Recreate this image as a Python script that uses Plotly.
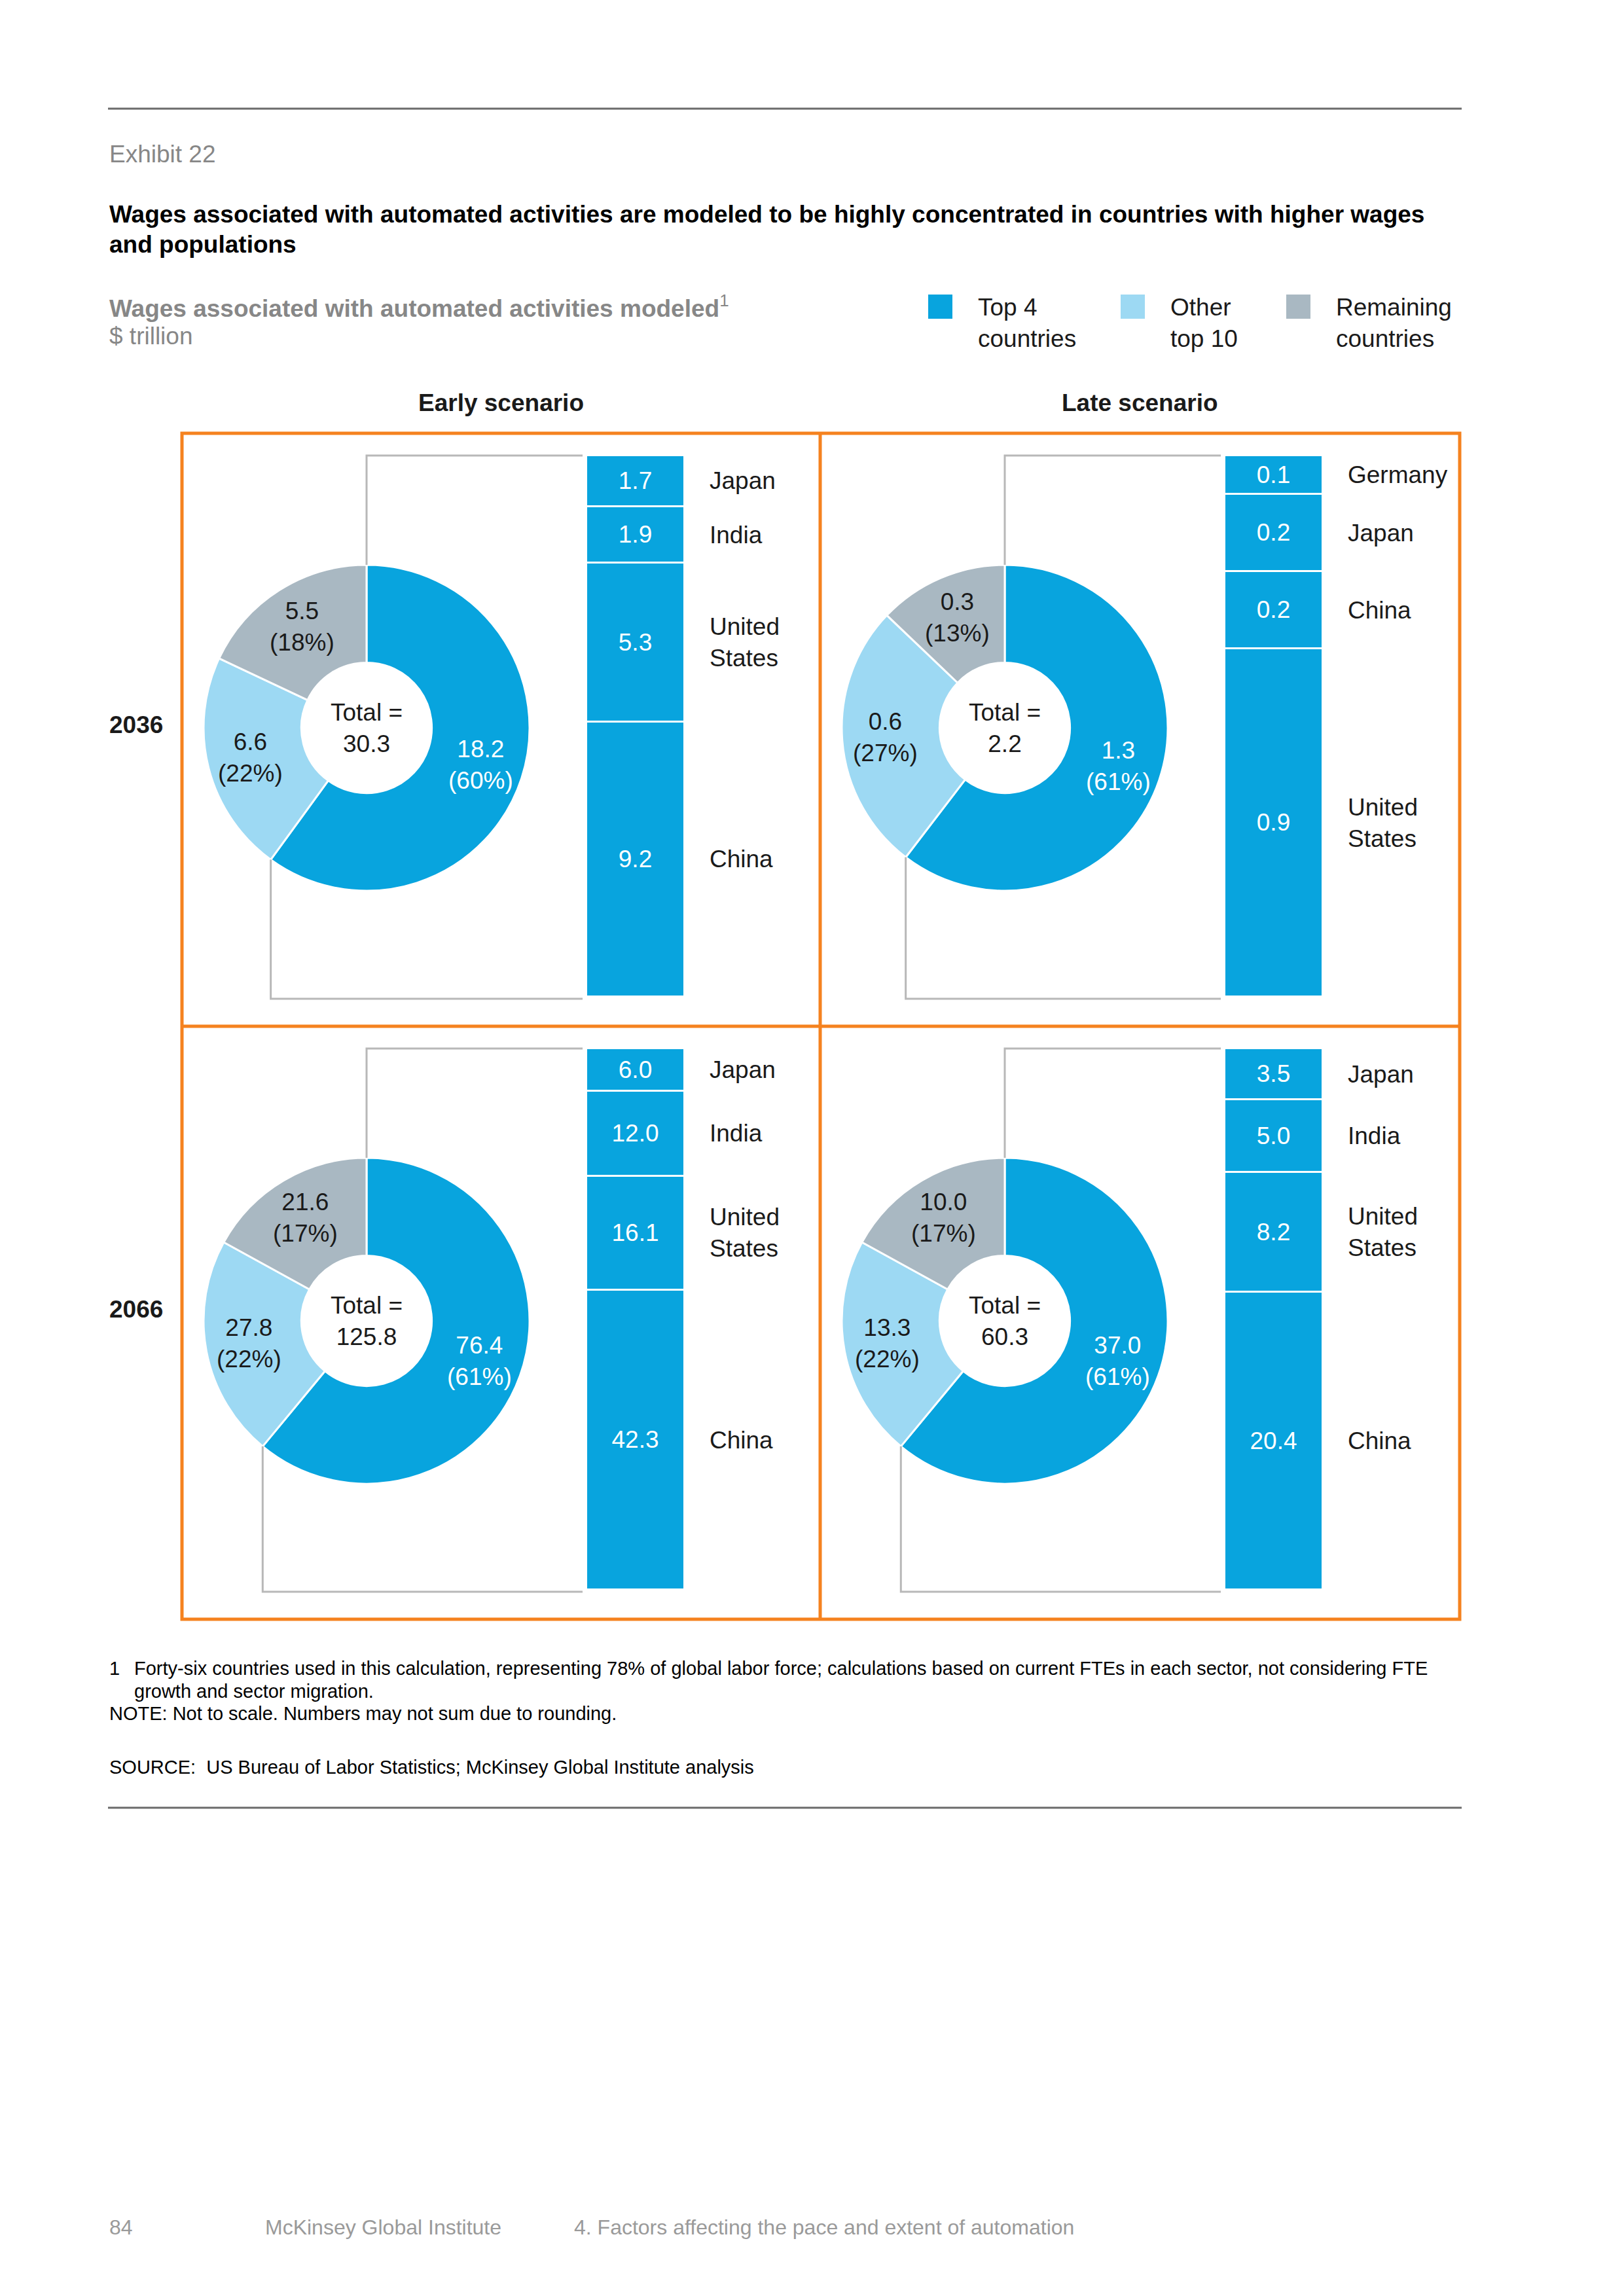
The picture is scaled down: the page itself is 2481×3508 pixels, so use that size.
import math
import plotly.graph_objects as go

# ---------------- data ----------------
scenarios = ["Early scenario", "Late scenario"]
years = ["2036", "2066"]
group_names = ["Top 4 countries", "Other top 10", "Remaining countries"]

# donut: values ($ trillion) and shares (%) in order Top 4, Other top 10, Remaining
donut_values_early_2036 = [18.2, 6.6, 5.5]
donut_shares_early_2036 = [60, 22, 18]
donut_values_late_2036 = [1.3, 0.6, 0.3]
donut_shares_late_2036 = [61, 27, 13]
donut_values_early_2066 = [76.4, 27.8, 21.6]
donut_shares_early_2066 = [61, 22, 17]
donut_values_late_2066 = [37.0, 13.3, 10.0]
donut_shares_late_2066 = [61, 22, 17]
totals = {"early_2036": 30.3, "late_2036": 2.2, "early_2066": 125.8, "late_2066": 60.3}

# top-4 country breakdown, listed top to bottom
countries_early_2036 = ["Japan", "India", "United States", "China"]
values_early_2036 = [1.7, 1.9, 5.3, 9.2]
countries_late_2036 = ["Germany", "Japan", "China", "United States"]
values_late_2036 = [0.1, 0.2, 0.2, 0.9]
countries_early_2066 = ["Japan", "India", "United States", "China"]
values_early_2066 = [6.0, 12.0, 16.1, 42.3]
countries_late_2066 = ["Japan", "India", "United States", "China"]
values_late_2066 = [3.5, 5.0, 8.2, 20.4]

# ---------------- styling / layout ----------------
W, H = 2481, 3508
FONT = "Liberation Sans, Arial, sans-serif"
BLUE = "#08a4de"
LIGHT = "#9dd9f3"
GREY = "#a9b8c2"
ORANGE = "#f5821f"
BRACKET = "#b8b8b8"
TXT = "#1a1a1a"
GREYTXT = "#878787"
FS = 37

def px(x):
    return x / W

def py(y):
    return 1 - y / H

COLS = [278, 1253]
ROWS = [662, 1568]
RIGHT, BOTTOM = 2230, 2474
CX_OFF, CY_OFF, R, HOLE = 282, 450, 249, 0.40
BAR_X0, BAR_X1, BAR_Y0, BAR_Y1 = 618, 768, 34, 861
LABEL_X = 804
BRACKET_Y = 864

panels = [
    (0, 0, donut_values_early_2036, donut_shares_early_2036, totals["early_2036"], countries_early_2036, values_early_2036),
    (1, 0, donut_values_late_2036, donut_shares_late_2036, totals["late_2036"], countries_late_2036, values_late_2036),
    (0, 1, donut_values_early_2066, donut_shares_early_2066, totals["early_2066"], countries_early_2066, values_early_2066),
    (1, 1, donut_values_late_2066, donut_shares_late_2066, totals["late_2066"], countries_late_2066, values_late_2066),
]

fig = go.Figure()
shapes = []
annotations = []
layout_axes = {}

def ann(x, y, text, size=FS, color=TXT, bold=False, xanchor="left", yanchor="middle", xref="paper", yref="paper", align="left"):
    if bold:
        text = f"<b>{text}</b>"
    annotations.append(dict(x=x, y=y, xref=xref, yref=yref, text=text, showarrow=False,
                            xanchor=xanchor, yanchor=yanchor, align=align,
                            font=dict(family=FONT, size=size, color=color)))

for i, (c, r, dvals, dshares, total, ctry, cvals) in enumerate(panels):
    L, T = COLS[c], ROWS[r]
    cx, cy = L + CX_OFF, T + CY_OFF
    # donut
    fig.add_trace(go.Pie(
        values=dshares, labels=group_names, sort=False, direction="clockwise", rotation=0,
        hole=HOLE, textinfo="none", hoverinfo="skip", showlegend=False,
        marker=dict(colors=[BLUE, LIGHT, GREY], line=dict(color="white", width=3)),
        domain=dict(x=[px(cx - R), px(cx + R)], y=[py(cy + R), py(cy - R)]),
    ))
    # slice labels
    tot = sum(dshares)
    start = 0.0
    lab_r = 0.735 * R
    for k, (v, s) in enumerate(zip(dvals, dshares)):
        frac = s / tot
        mid = (start + frac / 2) * 2 * math.pi
        lx = cx + lab_r * math.sin(mid)
        ly = cy - lab_r * math.cos(mid)
        ann(px(lx), py(ly), f"{v:.1f}<br>({s}%)", color="white" if k == 0 else TXT,
            xanchor="center", align="center")
        start += frac
    ann(px(cx), py(cy), f"Total =<br>{total}", xanchor="center", align="center")

    # bracket lines
    blue_end = dshares[0] / tot * 2 * math.pi
    bx = cx + R * math.sin(blue_end)
    by = cy - R * math.cos(blue_end)
    bar_left = L + BAR_X0
    shapes.append(dict(type="path", xref="paper", yref="paper",
                       path=f"M {px(cx)},{py(cy - R)} L {px(cx)},{py(T + BAR_Y0)} L {px(bar_left - 6)},{py(T + BAR_Y0)}",
                       line=dict(color=BRACKET, width=3)))
    shapes.append(dict(type="path", xref="paper", yref="paper",
                       path=f"M {px(bx)},{py(by)} L {px(bx)},{py(T + BRACKET_Y)} L {px(bar_left - 6)},{py(T + BRACKET_Y)}",
                       line=dict(color=BRACKET, width=3)))

    # stacked bar (bottom to top)
    n = i + 1
    xa, ya = f"x{n}" if n > 1 else "x", f"y{n}" if n > 1 else "y"
    layout_axes[f"xaxis{n}" if n > 1 else "xaxis"] = dict(
        domain=[px(L + BAR_X0), px(L + BAR_X1)], range=[-0.5, 0.5], visible=False, fixedrange=True,
        anchor=ya)
    layout_axes[f"yaxis{n}" if n > 1 else "yaxis"] = dict(
        domain=[py(T + BAR_Y1), py(T + BAR_Y0)], range=[0, sum(cvals)], visible=False, fixedrange=True,
        anchor=xa)
    cum = 0.0
    for name, v in list(zip(ctry, cvals))[::-1]:
        fig.add_trace(go.Bar(
            x=[0], y=[v], width=1, xaxis=xa, yaxis=ya, showlegend=False, hoverinfo="skip",
            marker=dict(color=BLUE, line=dict(color="white", width=3)),
            text=[f"{v:.1f}"], textposition="inside", insidetextanchor="middle", textangle=0,
            constraintext="none", textfont=dict(family=FONT, size=FS, color="white"),
        ))
        ann(px(L + LABEL_X), cum + v / 2, name.replace(" ", "<br>"), yref=ya)
        cum += v

# orange grid
shapes.append(dict(type="rect", xref="paper", yref="paper", x0=px(COLS[0]), x1=px(RIGHT),
                   y0=py(BOTTOM), y1=py(ROWS[0]), line=dict(color=ORANGE, width=5)))
shapes.append(dict(type="line", xref="paper", yref="paper", x0=px(COLS[1]), x1=px(COLS[1]),
                   y0=py(BOTTOM), y1=py(ROWS[0]), line=dict(color=ORANGE, width=5)))
shapes.append(dict(type="line", xref="paper", yref="paper", x0=px(COLS[0]), x1=px(RIGHT),
                   y0=py(ROWS[1]), y1=py(ROWS[1]), line=dict(color=ORANGE, width=5)))

# rules
for yy in (166, 2762):
    shapes.append(dict(type="line", xref="paper", yref="paper", x0=px(165), x1=px(2233),
                       y0=py(yy), y1=py(yy), line=dict(color="#6b6b6b", width=3)))

# headers
ann(px((COLS[0] + COLS[1]) / 2), py(615), scenarios[0], bold=True, xanchor="center")
ann(px((COLS[1] + RIGHT) / 2), py(615), scenarios[1], bold=True, xanchor="center")
ann(px(165), py(1108), years[0], bold=True)
ann(px(165), py(2000), years[1], bold=True)

# titles
ann(px(165), py(235), "Exhibit 22", color=GREYTXT)
ann(px(165), py(328), "Wages associated with automated activities are modeled to be highly concentrated in countries with higher wages", bold=True, color="black")
ann(px(165), py(373), "and populations", bold=True, color="black")
ann(px(165), py(468), "<b>Wages associated with automated activities modeled</b><sup>1</sup>", color=GREYTXT)
ann(px(165), py(514), "$ trillion", color=GREYTXT)

# legend
legend_sq = [1418, 1712, 1965]
legend_txt = ["Top 4<br>countries", "Other<br>top 10", "Remaining<br>countries"]
for xq, col, t in zip(legend_sq, [BLUE, LIGHT, GREY], legend_txt):
    shapes.append(dict(type="rect", xref="paper", yref="paper", x0=px(xq), x1=px(xq + 37),
                       y0=py(487), y1=py(450), fillcolor=col, line=dict(width=0)))
    ann(px(xq + 74), py(493), t)

# footnotes
FN = 29
ann(px(165), py(2549), "1", size=FN, color="black")
ann(px(203), py(2549), "Forty-six countries used in this calculation, representing 78% of global labor force; calculations based on current FTEs in each sector, not considering FTE", size=FN, color="black")
ann(px(203), py(2584), "growth and sector migration.", size=FN, color="black")
ann(px(165), py(2618), "NOTE: Not to scale. Numbers may not sum due to rounding.", size=FN, color="black")
ann(px(165), py(2700), "SOURCE:  US Bureau of Labor Statistics; McKinsey Global Institute analysis", size=FN, color="black")

# footer
ann(px(165), py(3403), "84", size=32, color="#9a9a9a")
ann(px(403), py(3403), "McKinsey Global Institute", size=32, color="#9a9a9a")
ann(px(875), py(3403), "4. Factors affecting the pace and extent of automation", size=32, color="#9a9a9a")

fig.update_layout(
    width=W, height=H, margin=dict(l=0, r=0, t=0, b=0, pad=0),
    paper_bgcolor="white", plot_bgcolor="rgba(0,0,0,0)",
    barmode="stack", bargap=0, showlegend=False,
    shapes=shapes, annotations=annotations,
    font=dict(family=FONT, size=FS, color=TXT),
    **layout_axes,
)

fig.write_html("out.html", config={"displayModeBar": False},
               post_script="document.body.style.margin='0';document.body.style.overflow='hidden';")
